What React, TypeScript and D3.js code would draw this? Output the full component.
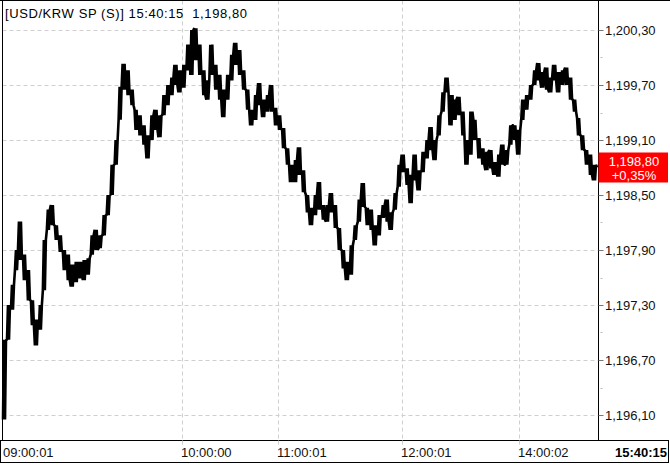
import React, { useEffect, useRef } from 'react';
import * as d3 from 'd3';

// tick buckets: highest / lowest trade in each slice of the session
const highs = [
  1196.92, 1197.30, 1197.52, 1197.90, 1198.21, 1197.85, 1197.68, 1197.35, 1197.14, 1197.30,
  1198.01, 1198.34, 1198.39, 1198.17, 1198.06, 1197.90, 1197.85, 1197.74, 1197.77, 1197.77,
  1197.79, 1197.81, 1198.06, 1198.12, 1198.06, 1198.28, 1198.50, 1198.83, 1199.10, 1199.68,
  1199.93, 1199.86, 1199.65, 1199.43, 1199.37, 1199.26, 1199.15, 1199.37, 1199.43, 1199.37,
  1199.59, 1199.70, 1199.78, 1199.92, 1199.86, 1199.92, 1200.14, 1200.30, 1200.32, 1200.14,
  1199.86, 1199.75, 1200.14, 1199.92, 1199.81, 1199.65, 1199.81, 1200.03, 1200.16, 1200.08,
  1199.86, 1199.65, 1199.43, 1199.59, 1199.72, 1199.54, 1199.59, 1199.70, 1199.45, 1199.37,
  1199.23, 1199.01, 1198.83, 1198.88, 1199.02, 1198.77, 1198.50, 1198.36, 1198.50, 1198.64,
  1198.39, 1198.39, 1198.52, 1198.39, 1198.14, 1197.90, 1197.77, 1197.95, 1198.17, 1198.45,
  1198.63, 1198.36, 1198.34, 1198.17, 1198.28, 1198.39, 1198.45, 1198.31, 1198.52, 1198.83,
  1198.94, 1198.79, 1198.72, 1198.94, 1198.77, 1198.97, 1199.10, 1199.24, 1199.10, 1199.37,
  1199.62, 1199.78, 1199.59, 1199.54, 1199.57, 1199.41, 1199.10, 1199.41, 1199.32, 1199.12,
  1199.01, 1198.97, 1198.99, 1198.86, 1198.94, 1199.05, 1198.99, 1199.26, 1199.26, 1199.21,
  1199.54, 1199.59, 1199.70, 1199.86, 1199.94, 1199.84, 1199.89, 1199.78, 1199.92, 1199.84,
  1199.86, 1199.89, 1199.78, 1199.54, 1199.34, 1199.15, 1198.99, 1198.94, 1198.83,
];

const lows = [
  1196.05, 1196.92, 1197.25, 1197.68, 1197.79, 1197.57, 1197.35, 1197.08, 1196.86, 1197.03,
  1197.46, 1198.12, 1198.17, 1198.01, 1197.88, 1197.68, 1197.57, 1197.50, 1197.55, 1197.59,
  1197.57, 1197.63, 1197.85, 1197.90, 1197.92, 1198.06, 1198.28, 1198.50, 1198.83, 1199.32,
  1199.65, 1199.59, 1199.48, 1199.21, 1199.15, 1199.05, 1198.90, 1199.10, 1199.21, 1199.13,
  1199.37, 1199.48, 1199.59, 1199.70, 1199.62, 1199.67, 1199.86, 1199.81, 1199.97, 1199.81,
  1199.59, 1199.54, 1199.81, 1199.65, 1199.54, 1199.35, 1199.54, 1199.75, 1199.92, 1199.81,
  1199.65, 1199.43, 1199.26, 1199.32, 1199.48, 1199.35, 1199.41, 1199.41, 1199.26, 1199.21,
  1199.01, 1198.83, 1198.64, 1198.64, 1198.72, 1198.53, 1198.31, 1198.17, 1198.28, 1198.34,
  1198.23, 1198.21, 1198.31, 1198.14, 1197.90, 1197.70, 1197.57, 1197.63, 1198.01, 1198.21,
  1198.37, 1198.17, 1198.12, 1197.95, 1198.06, 1198.25, 1198.21, 1198.12, 1198.34, 1198.59,
  1198.75, 1198.61, 1198.41, 1198.66, 1198.55, 1198.75, 1198.90, 1198.99, 1198.88, 1199.15,
  1199.41, 1199.62, 1199.26, 1199.32, 1199.37, 1199.15, 1198.83, 1198.94, 1199.10, 1198.90,
  1198.83, 1198.77, 1198.79, 1198.72, 1198.70, 1198.83, 1198.83, 1199.05, 1199.10, 1198.94,
  1199.32, 1199.43, 1199.54, 1199.70, 1199.75, 1199.67, 1199.65, 1199.62, 1199.75, 1199.62,
  1199.70, 1199.70, 1199.54, 1199.41, 1199.15, 1198.99, 1198.83, 1198.72, 1198.66,
];

const lastPrice = 1198.8;
const lastTime = '15:40:15';
const changeText = '+0,35%';
const title = '[USD/KRW SP (S)]';

const priceTicks = [1196.1, 1196.7, 1197.3, 1197.9, 1198.5, 1199.1, 1199.7, 1200.3];
const timeLabels = ['09:00:01', '10:00:00', '11:00:01', '12:00:01', '14:00:02'];
const timeIndex = [0, 45, 69, 100, 129.4];

// 1,198.80 -> 1,198,80 (the terminal uses commas everywhere)
const fmtPrice = (v: number) => d3.format(',.2f')(v).replace('.', ',');

const App = () => {
  const svgRef = useRef<SVGSVGElement>(null);

  useEffect(() => {
    const svg = d3.select(svgRef.current);
    svg.selectAll('*').remove();

    const left = 2.5;
    const right = 598.5;
    const top = 0.5;
    const bottom = 440.5;
    const font = "'Liberation Sans', Arial, sans-serif";

    const n = highs.length;
    const x = d3.scaleLinear().domain([0, n]).range([3, 597]);
    const y = d3.scaleLinear().domain([1196.1, 1200.3]).range([415, 30]);

    svg.append('rect').attr('width', 670).attr('height', 465).attr('fill', '#fff');

    // grid
    const grid = svg.append('g').attr('stroke', '#cfcfcf').attr('stroke-dasharray', '4,3');
    grid
      .selectAll('line.h')
      .data(priceTicks)
      .enter()
      .append('line')
      .attr('x1', left)
      .attr('x2', right)
      .attr('y1', (d) => Math.round(y(d)) + 0.5)
      .attr('y2', (d) => Math.round(y(d)) + 0.5);
    grid
      .selectAll('line.v')
      .data(timeIndex.slice(1))
      .enter()
      .append('line')
      .attr('x1', (d) => Math.round(x(d)) + 0.5)
      .attr('x2', (d) => Math.round(x(d)) + 0.5)
      .attr('y1', top)
      .attr('y2', bottom);

    // price path: jitter between each bucket's high and low, like the raw tick feed
    const pts: [number, number][] = [];
    for (let i = 0; i < n; i++) {
      const mid = (highs[i] + lows[i]) / 2;
      const next = i < n - 1 ? (highs[i + 1] + lows[i + 1]) / 2 : lastPrice;
      const pair = next >= mid ? [lows[i], highs[i]] : [highs[i], lows[i]];
      pts.push([x(i), y(pair[0])]);
      pts.push([x(i + 0.25), y(pair[1])]);
      pts.push([x(i + 0.5), y(pair[0])]);
      pts.push([x(i + 0.75), y(pair[1])]);
    }
    pts.push([x(n), y(lastPrice)]);

    svg
      .append('path')
      .attr('d', d3.line()(pts))
      .attr('fill', 'none')
      .attr('stroke', '#000')
      .attr('stroke-width', 2.6)
      .attr('stroke-linejoin', 'bevel');

    // frame
    const frame = svg.append('g').attr('stroke', '#000').attr('stroke-width', 1).attr('fill', 'none');
    frame.append('line').attr('x1', 0).attr('x2', 670).attr('y1', top).attr('y2', top);
    frame.append('line').attr('x1', left).attr('x2', left).attr('y1', 0).attr('y2', bottom);
    frame.append('line').attr('x1', right).attr('x2', right).attr('y1', 0).attr('y2', bottom);
    frame.append('rect').attr('x', 0.5).attr('y', bottom).attr('width', 668).attr('height', 22);

    // right price axis
    const axis = svg.append('g');
    axis
      .selectAll('line.tick')
      .data(priceTicks)
      .enter()
      .append('line')
      .attr('x1', right)
      .attr('x2', right + 5)
      .attr('y1', (d) => Math.round(y(d)) + 0.5)
      .attr('y2', (d) => Math.round(y(d)) + 0.5)
      .attr('stroke', '#777');
    axis
      .selectAll('line.minor')
      .data(priceTicks.slice(0, -1))
      .enter()
      .append('line')
      .attr('x1', right + 2)
      .attr('x2', right + 4)
      .attr('y1', (d) => Math.round(y(d + 0.3)) + 0.5)
      .attr('y2', (d) => Math.round(y(d + 0.3)) + 0.5)
      .attr('stroke', '#bbb');
    axis
      .selectAll('text')
      .data(priceTicks)
      .enter()
      .append('text')
      .attr('x', 605)
      .attr('y', (d) => y(d))
      .attr('dy', '0.35em')
      .attr('font-family', font)
      .attr('font-size', 13)
      .attr('fill', '#111')
      .text((d) => fmtPrice(d));

    // current price box
    svg
      .append('rect')
      .attr('x', right)
      .attr('y', y(lastPrice) - 15)
      .attr('width', 69.5)
      .attr('height', 30)
      .attr('fill', '#f00');
    const tag = svg
      .append('text')
      .attr('x', 634)
      .attr('text-anchor', 'middle')
      .attr('font-family', font)
      .attr('font-size', 13)
      .attr('fill', '#fff');
    tag.append('tspan').attr('x', 634).attr('y', y(lastPrice) - 1.5).text(fmtPrice(lastPrice));
    tag.append('tspan').attr('x', 634).attr('y', y(lastPrice) + 12.5).text(changeText);

    // time axis
    const tx = svg.append('g');
    tx.selectAll('line')
      .data(timeIndex.slice(1))
      .enter()
      .append('line')
      .attr('x1', (d) => Math.round(x(d)) + 0.5)
      .attr('x2', (d) => Math.round(x(d)) + 0.5)
      .attr('y1', bottom)
      .attr('y2', bottom + 4)
      .attr('stroke', '#ccc');
    tx.selectAll('text')
      .data(timeLabels)
      .enter()
      .append('text')
      .attr('x', (d, i) => Math.round(x(timeIndex[i])) - (i === 0 ? 0 : 1))
      .attr('y', 457)
      .attr('font-family', font)
      .attr('font-size', 13)
      .attr('fill', '#111')
      .text((d) => d);
    tx.append('text')
      .attr('x', 667)
      .attr('y', 457)
      .attr('text-anchor', 'end')
      .attr('font-family', font)
      .attr('font-size', 13)
      .attr('font-weight', 'bold')
      .attr('fill', '#000')
      .text(lastTime);

    // header
    svg
      .append('text')
      .attr('x', 5)
      .attr('y', 18)
      .attr('font-family', font)
      .attr('font-size', 13)
      .attr('fill', '#000')
      .attr('textLength', 242)
      .style('white-space', 'pre')
      .text(`${title} ${lastTime}  ${fmtPrice(lastPrice)}`);
  }, []);

  return <svg ref={svgRef} width={670} height={465} style={{ position: 'absolute', left: 0, top: 0 }} />;
};

export default App;
